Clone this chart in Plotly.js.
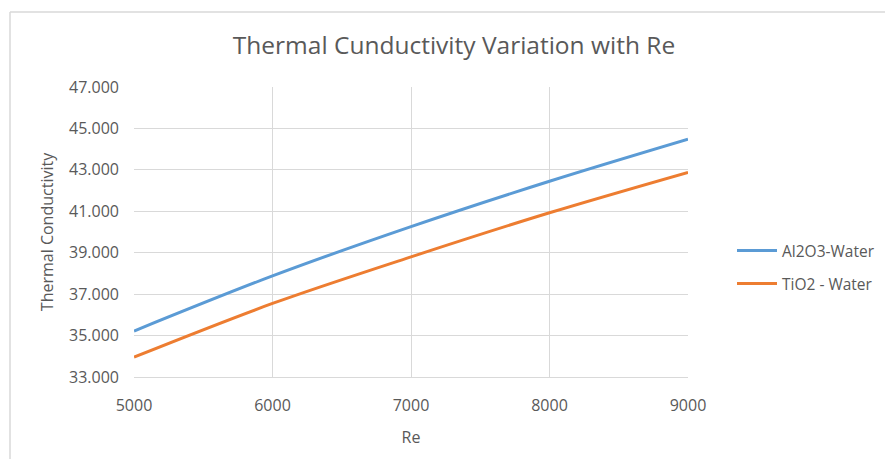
<!DOCTYPE html>
<html>
<head>
<meta charset="utf-8">
<script src="https://cdn.plot.ly/plotly-3.0.1.min.js"></script>
<style>
html,body{margin:0;padding:0;background:#fff;}
#chart{width:885px;height:459px;}
</style>
</head>
<body>
<div id="chart"></div>
<script>
const re = [5000, 6000, 7000, 8000, 9000];
const al2o3Water = [35.22, 37.88, 40.26, 42.45, 44.48];
const tio2Water = [33.96, 36.55, 38.80, 40.93, 42.88];
const seriesNames = ["Al2O3-Water", "TiO2 - Water"];
const yTicks = [33, 35, 37, 39, 41, 43, 45, 47];
const xTicks = [5000, 6000, 7000, 8000, 9000];

const FONT = "'Open Sans', 'Noto Sans', 'Liberation Sans', sans-serif";
const textGray = "#595959";

const traces = [
  {x: re, y: al2o3Water, name: seriesNames[0], type: "scatter", mode: "lines", legend: "legend",
   line: {color: "#5b9bd5", width: 3, shape: "spline", smoothing: 0.9}},
  {x: re, y: tio2Water, name: seriesNames[1], type: "scatter", mode: "lines", legend: "legend2",
   line: {color: "#ed7d31", width: 3, shape: "spline", smoothing: 0.9}}
];

const legendBase = {xref: "paper", yref: "paper", x: (732-134)/554, xanchor: "left", yanchor: "middle",
  font: {size: 15.5, color: textGray}, bgcolor: "rgba(0,0,0,0)", itemwidth: 40};

const layout = {
  width: 885, height: 459,
  paper_bgcolor: "#fff", plot_bgcolor: "#fff",
  margin: {l: 134, r: 197, t: 87, b: 82, autoexpand: false},
  font: {family: FONT, color: textGray, size: 16},
  title: {text: "Thermal Cunductivity Variation with Re", font: {family: FONT, size: 24.5, color: textGray},
          x: 454/885, xref: "container", xanchor: "center", y: 1 - 45/459, yref: "container", yanchor: "middle"},
  xaxis: {range: [5000, 9000], tickvals: xTicks, ticktext: xTicks.map(String),
          showgrid: true, gridcolor: "#d9d9d9", gridwidth: 1, zeroline: false,
          showline: true, linecolor: "#d9d9d9", linewidth: 1, ticks: "", ticklen: 0,
          ticklabelstandoff: 14,
          tickfont: {size: 16, color: textGray},
          title: {text: "Re", font: {size: 16, color: textGray}, standoff: 16}},
  yaxis: {range: [33, 47], tickvals: yTicks, ticktext: yTicks.map(v => v.toFixed(3)),
          showgrid: true, gridcolor: "#d9d9d9", gridwidth: 1, zeroline: false,
          showline: false, ticks: "", ticklen: 0,
          ticklabelstandoff: 14,
          tickfont: {size: 16, color: textGray},
          title: {text: "Thermal Conductivity", font: {size: 16, color: textGray}, standoff: 11}},
  legend: Object.assign({}, legendBase, {y: (377-251)/290}),
  legend2: Object.assign({}, legendBase, {y: (377-284)/290}),
  showlegend: true,
  shapes: [
    {type: "line", xref: "paper", yref: "paper", x0: (10-134)/554, x1: (890-134)/554, y0: (377-12)/290, y1: (377-12)/290,
     line: {color: "#d9d9d9", width: 1.5}},
    {type: "line", xref: "paper", yref: "paper", x0: (10-134)/554, x1: (10-134)/554, y0: (377-12)/290, y1: (377-465)/290,
     line: {color: "#d9d9d9", width: 1.5}}
  ]
};

Plotly.newPlot("chart", traces, layout, {displayModeBar: false, staticPlot: true});
</script>
</body>
</html>
